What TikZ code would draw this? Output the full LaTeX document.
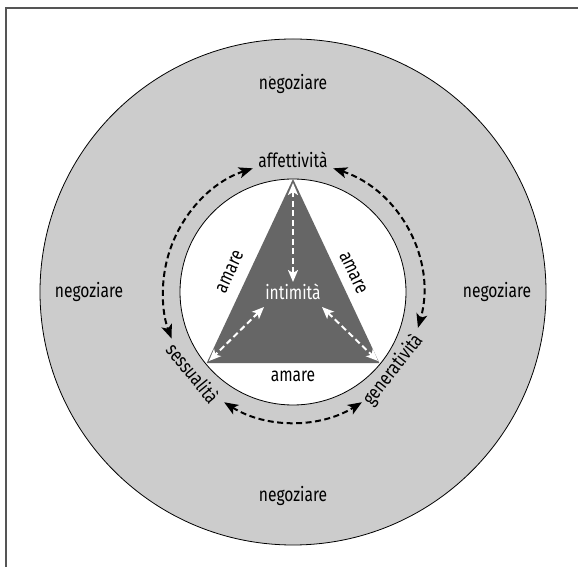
\documentclass[tikz,border=0pt]{standalone}
\usepackage{fontspec}
\setmainfont{Fira Sans}[FakeStretch=0.8]
\usetikzlibrary{arrows.meta,calc}
\definecolor{ringgray}{HTML}{CCCCCC}
\definecolor{triagray}{HTML}{666666}
\definecolor{framegray}{HTML}{555555}
\tikzset{
  lbl/.style={inner sep=0pt, font=\fontsize{19.5}{21}\selectfont},
  wlbl/.style={lbl, text=white},
  outerarrow/.style={line width=2pt, dash pattern=on 6pt off 3.5pt,
    {Stealth[length=14pt,width=11pt,inset=3.5pt]}-{Stealth[length=14pt,width=11pt,inset=3.5pt]}},
  innerarrow/.style={white, line width=2pt, dash pattern=on 6pt off 3.5pt,
    {Stealth[length=12pt,width=10pt,inset=3pt]}-{Stealth[length=12pt,width=10pt,inset=3pt]}}
}
\begin{document}
\begin{tikzpicture}[x=1pt,y=1pt]
  \useasboundingbox (0,0) rectangle (578,567);
  \fill[white] (0,0) rectangle (578,567);
  % frame along the top and left edges
  \draw[framegray, line width=2.6pt] (6,0) -- (6,559) -- (578,559);

  \coordinate (C) at (293,275);
  % negotiation ring and inner disc
  \filldraw[fill=ringgray, draw=black, line width=0.8pt] (C) circle[radius=253];
  \filldraw[fill=white, draw=black, line width=0.8pt] (C) circle[radius=113];
  \fill[black] (270,490) circle[radius=0.7];

  % intimacy triangle
  \coordinate (tA) at ($(C)+(90:113)$);
  \coordinate (tL) at ($(C)+(219.5:112)$);
  \coordinate (tR) at ($(C)+(320.5:112)$);
  \fill[triagray] (tA) -- (tL) -- (tR) -- cycle;

  % texts
  \node[lbl] (n1) at (293,483) {negoziare};
  \node[lbl] (n2) at (89,275) {negoziare};
  \node[lbl] (n3) at (497,275) {negoziare};
  \node[lbl] (n4) at (293,71) {negoziare};
  \node[lbl] (aff) at (293,407) {affettività};
  \node[lbl, rotate=-51] (ses) at (193,194) {sessualità};
  \node[lbl, rotate=52] (gen) at (393,197) {generatività};
  \node[lbl, rotate=65] (am1) at (230,295) {amare};
  \node[lbl, rotate=-65] (am2) at (353,294) {amare};
  \node[lbl] (am3) at (293,191) {amare};
  \node[wlbl] (int) at (293,275) {intimità};

  % dashed arcs between the three dimensions
  \coordinate (a1) at ($(C)+(108:130)$);
  \coordinate (a2) at ($(C)+(72:130)$);
  \coordinate (a3) at ($(C)+(238:130)$);
  \draw[outerarrow] (a1) arc[start angle=108, end angle=201, radius=130];
  \draw[outerarrow] (a2) arc[start angle=72, end angle=-16, radius=130];
  \draw[outerarrow] (a3) arc[start angle=238, end angle=302, radius=130];

  % white dashed links inside the triangle
  \coordinate (v1) at (293,384);
  \coordinate (v2) at (293,285);
  \coordinate (l1) at (264,260);
  \coordinate (l2) at (209,206);
  \coordinate (r1) at (322,260);
  \coordinate (r2) at (378,206);
  \draw[innerarrow] (v1) -- (v2);
  \draw[innerarrow] (l1) -- (l2);
  \draw[innerarrow] (r1) -- (r2);
\end{tikzpicture}
\end{document}
